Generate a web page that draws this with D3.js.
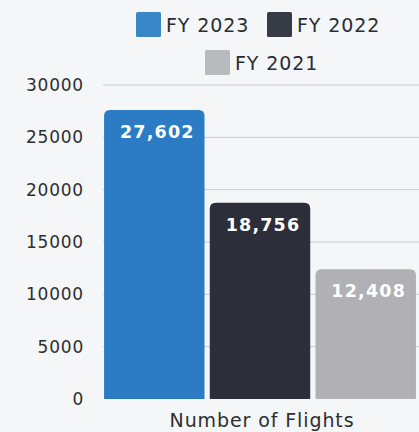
<!DOCTYPE html>
<html><head><meta charset="utf-8">
<script src="https://cdn.jsdelivr.net/npm/d3@7"></script>
<style>
html,body{margin:0;padding:0;background:#f4f6f7;}
svg{display:block;font-family:"DejaVu Sans",sans-serif;}
</style></head>
<body><svg id="c" width="419" height="432"></svg>
<script>
const category = "Number of Flights";
const series = ["FY 2023", "FY 2022", "FY 2021"];
const values = [27602, 18756, 12408];
const barColors = ["#2b7cc4", "#2c2f39", "#b1b0b5"];
const swatchColors = ["#3a87c8", "#363b44", "#b9babe"];
const yTicks = [0, 5000, 10000, 15000, 20000, 25000, 30000];

const svg = d3.select("#c");
const W = 419, H = 432;
const m = {left: 103, right: 2, top: 85, bottom: 33};

const y = d3.scaleLinear().domain([0, 30000]).range([H - m.bottom, m.top]);
const x = d3.scaleBand().domain(series).range([m.left, W - m.right]).paddingInner(0.05).paddingOuter(0.01);

// grid
svg.append("g").selectAll("line").data(yTicks.filter(d => d > 0)).join("line")
  .attr("x1", m.left).attr("x2", W).attr("y1", d => y(d)).attr("y2", d => y(d))
  .attr("stroke", "#c9cbcd").attr("stroke-width", 1);

// y axis
const ya = svg.append("g").attr("transform", `translate(${m.left - 16},0)`)
  .call(d3.axisLeft(y).tickValues(yTicks).tickFormat(d3.format("d")).tickSize(0));
ya.select(".domain").remove();
ya.selectAll("text").attr("font-size", 17).attr("fill", "#2f2f2f").attr("dx", 0)
  .attr("font-family", "DejaVu Sans").attr("letter-spacing", 0.8);

// bars
const r = 6;
function barPath(x0, y0, w, h) {
  return `M${x0},${y0 + h}V${y0 + r}Q${x0},${y0} ${x0 + r},${y0}H${x0 + w - r}Q${x0 + w},${y0} ${x0 + w},${y0 + r}V${y0 + h}Z`;
}
svg.append("g").selectAll("path").data(values).join("path")
  .attr("d", (d, i) => barPath(x(series[i]), y(d), x.bandwidth(), y(0) - y(d)))
  .attr("fill", (d, i) => barColors[i]);

// value labels
svg.append("g").selectAll("text").data(values).join("text")
  .attr("x", (d, i) => x(series[i]) + x.bandwidth() / 2 + 3)
  .attr("y", d => y(d) + 28)
  .attr("text-anchor", "middle").attr("fill", "#ffffff")
  .attr("font-size", 17.5).attr("font-weight", "bold").attr("letter-spacing", 1.2)
  .text(d => d3.format(",")(d));

// x label
svg.append("text").attr("x", 262).attr("y", 427).attr("text-anchor", "middle")
  .attr("font-size", 19).attr("fill", "#2f2f2f").attr("letter-spacing", 0.9).text(category);

// legend
const legendPos = [[136, 12], [267, 12], [205, 50]];
const lg = svg.append("g").selectAll("g").data(series).join("g")
  .attr("transform", (d, i) => `translate(${legendPos[i][0]},${legendPos[i][1]})`);
lg.append("rect").attr("width", 25).attr("height", 25).attr("rx", 1.5)
  .attr("fill", (d, i) => swatchColors[i]);
lg.append("text").attr("x", 30).attr("y", 19.5).attr("font-size", 19)
  .attr("fill", "#2a2d33").attr("letter-spacing", 0.9).text(d => d);
</script></body></html>
